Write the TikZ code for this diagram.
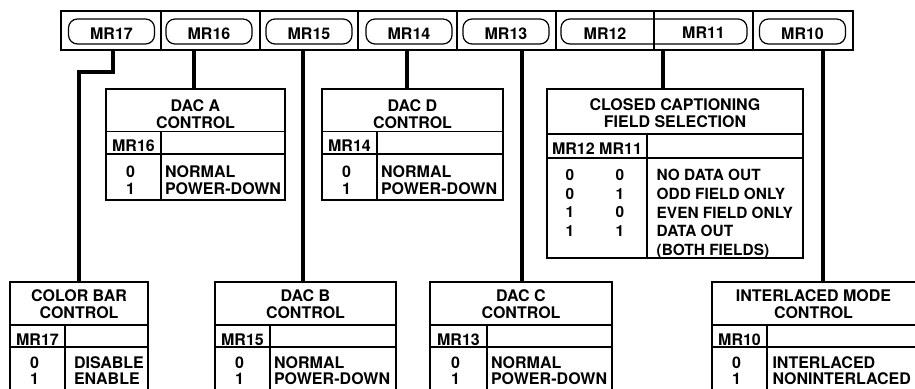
\documentclass[tikz,border=0pt]{standalone}
\usepackage{fontspec}
\setsansfont{TeX Gyre Heros}
\begin{document}
\begin{tikzpicture}
  [x=1pt, y=-1pt,
   font=\sffamily\bfseries\fontsize{16}{16.5}\selectfont,
   every node/.style={inner sep=0pt, outer sep=0pt},
   regbar/.style={draw, line width=2.3pt, minimum width=792pt, minimum height=39pt},
   cellsep/.style={line width=1.3pt},
   pill/.style={draw, line width=1.2pt, rounded corners=9pt, minimum width=86pt, minimum height=25pt, text height=15pt, text depth=0pt},
   ctrlbox/.style={draw, line width=1.4pt, anchor=north west},
   gridline/.style={line width=1.4pt},
   boxtitle/.style={anchor=north, align=center, font=\sffamily\bfseries\fontsize{16}{17}\selectfont},
   hdr/.style={anchor=north},
   bits/.style={anchor=north, align=center},
   meaning/.style={anchor=north west, align=left},
   ccrow/.style={font=\sffamily\bfseries\fontsize{15.4}{18.6}\selectfont},
   wire/.style={line width=3.3pt}]

  \useasboundingbox (0,0) rectangle (915,388);

  % register bar
  \node[regbar] (regbar) at (457,30.5) {};
  \foreach \x in {161,260,358,457,556,654,753}
    \draw[cellsep] (\x,11) -- (\x,50);
  \foreach \n/\x in {17/111.5,16/209,15/309,14/409,13/506,10/802.5}
    \node[pill] (mr\n) at (\x,31.5) {MR\n};
  \node[pill, minimum width=186pt] (mr1211) at (654,31.5) {};
  \node[hdr] (mr12) at (605,28.3) {MR12};
  \node[hdr] (mr11) at (703.5,27.3) {MR11};

  % control tables
  \foreach \n/\xa/\xb/\xd/\ya/\yb/\yc/\yd in {cbar/10/148/65/282/325/347/393,
      daca/106/285/161/89/131.7/154/200, dacb/215/396/270/282/325/347/393,
      dacd/322/503/377/89/131.7/154/200, dacc/430/612/487/282/325/347/393,
      ccap/547/803/647/89/134/158/258, ilace/712/918/767/282/325/347/393}
  {
    \node[ctrlbox, minimum width={(\xb-\xa)*1pt}, minimum height={(\yd-\ya)*1pt}] (\n) at (\xa,\ya) {};
    \draw[gridline] (\xa,\yb) -- (\xb,\yb) (\xa,\yc) -- (\xb,\yc) (\xd,\yb) -- (\xd,\yd);
  }

  \node[boxtitle] (daca_t) at (195.5,100) {DAC A\\CONTROL};
  \node[hdr] (daca_h) at (133.5,140) {MR16};
  \node[bits] (daca_b) at (130.5,166) {0\\1};
  \node[meaning] (daca_m) at (165,166) {NORMAL\\POWER-DOWN};

  \node[boxtitle] (dacd_t) at (412.5,100) {DAC D\\CONTROL};
  \node[hdr] (dacd_h) at (349.5,140) {MR14};
  \node[bits] (dacd_b) at (346.5,166) {0\\1};
  \node[meaning] (dacd_m) at (381,166) {NORMAL\\POWER-DOWN};

  \node[boxtitle] (ccap_t) at (675,98.3) {CLOSED CAPTIONING\\FIELD SELECTION};
  \node[hdr] (ccap_h) at (597,143.3) {MR12 MR11};
  \node[bits, ccrow] (ccap_b1) at (570,169.5) {0\\0\\1\\1};
  \node[bits, ccrow] (ccap_b2) at (620,169.5) {0\\1\\0\\1};
  \node[meaning, ccrow] (ccap_m) at (656.7,169.5) {NO DATA OUT\\ODD FIELD ONLY\\EVEN FIELD ONLY\\DATA OUT\\(BOTH FIELDS)};

  \node[boxtitle] (cbar_t) at (79,289.5) {COLOR BAR\\CONTROL};
  \node[hdr] (cbar_h) at (37.5,334) {MR17};
  \node[bits] (cbar_b) at (34.5,356.5) {0\\1};
  \node[meaning] (cbar_m) at (74,356.5) {DISABLE\\ENABLE};

  \node[boxtitle] (dacb_t) at (305.5,289.5) {DAC B\\CONTROL};
  \node[hdr] (dacb_h) at (242.5,334) {MR15};
  \node[bits] (dacb_b) at (239.5,356.5) {0\\1};
  \node[meaning] (dacb_m) at (274,356.5) {NORMAL\\POWER-DOWN};

  \node[boxtitle] (dacc_t) at (521,289.5) {DAC C\\CONTROL};
  \node[hdr] (dacc_h) at (458.5,334) {MR13};
  \node[bits] (dacc_b) at (455.5,356.5) {0\\1};
  \node[meaning] (dacc_m) at (491,356.5) {NORMAL\\POWER-DOWN};

  \node[boxtitle] (ilace_t) at (813.5,289.5) {INTERLACED MODE\\CONTROL};
  \node[hdr] (ilace_h) at (739.5,334) {MR10};
  \node[bits] (ilace_b) at (736.5,356.5) {0\\1};
  \node[meaning] (ilace_m) at (772.5,356.5) {INTERLACED\\NONINTERLACED};

  % connections
  \draw[wire] ([xshift=1.5pt]mr17 |- regbar.south) -- ++(0,22) -| (cbar.north);
  \draw[wire] ([xshift=-1.5pt]daca.north) -- ([xshift=-1.5pt]daca.north |- regbar.south);
  \draw[wire] ([xshift=-2.5pt]dacb.north) -- ([xshift=-2.5pt]dacb.north |- regbar.south);
  \draw[wire] ([xshift=-2pt]mr14 |- regbar.south) -- ([xshift=-2pt]mr14 |- dacd.north);
  \draw[wire] ([xshift=1pt]dacc.north) -- ([xshift=1pt]dacc.north |- regbar.south);
  \draw[wire] ([xshift=-12pt]ccap.north) -- ([xshift=-12pt]ccap.north |- regbar.south);
  \draw[wire] ([xshift=8pt]ilace.north) -- ([xshift=8pt]ilace.north |- regbar.south);

\end{tikzpicture}
\end{document}
